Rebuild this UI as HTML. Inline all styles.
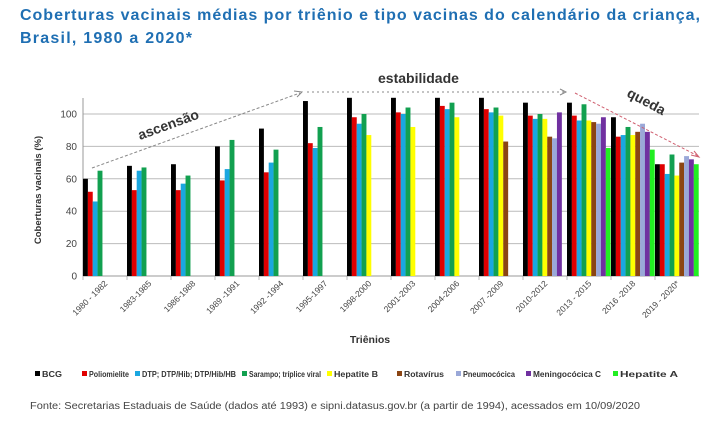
<!DOCTYPE html>
<html><head><meta charset="utf-8"><style>
body{margin:0;background:#fff;width:722px;height:432px;overflow:hidden;font-family:"Liberation Sans",sans-serif}
</style></head><body>
<svg id="c" width="722" height="432" xmlns="http://www.w3.org/2000/svg" font-family="Liberation Sans, sans-serif">
<text x="20" y="20" font-size="16" font-weight="bold" fill="#1f6fb3" textLength="680" lengthAdjust="spacing">Coberturas vacinais médias por triênio e tipo vacinas do calendário da criança,</text>
<text x="20" y="43" font-size="16" font-weight="bold" fill="#1f6fb3" textLength="172" lengthAdjust="spacing">Brasil, 1980 a 2020*</text>
<g id="grid" stroke="#bbb" stroke-width="1"></g>
<line x1="83" y1="98" x2="83" y2="276" stroke="#999"/>
<line x1="83" y1="276" x2="699" y2="276" stroke="#999"/>
<g id="bars"></g>
<g id="lbl" font-size="8.5" fill="#444"></g>
<text transform="translate(41,190) rotate(-90)" text-anchor="middle" font-size="9.5" font-weight="bold" fill="#333">Coberturas vacinais (%)</text>
<text x="370" y="343" text-anchor="middle" font-size="10.5" font-weight="bold" fill="#333">Triênios</text>
<line x1="92" y1="168" x2="300" y2="93" stroke="#888" stroke-dasharray="3,2"/>
<path d="M294,91 L302,92 L297,97" fill="none" stroke="#888"/>
<line x1="307" y1="92" x2="565" y2="92" stroke="#888" stroke-dasharray="2,3"/>
<path d="M560,89 L566,92 L560,95" fill="none" stroke="#888"/>
<line x1="575" y1="93" x2="698" y2="156" stroke="#d06070" stroke-dasharray="3,2"/>
<path d="M691,155 L699,157 L694,151" fill="none" stroke="#d06070"/>
<text transform="translate(140,140) rotate(-20)" font-size="14" font-weight="bold" fill="#333">ascensão</text>
<text x="378" y="83" font-size="14" font-weight="bold" fill="#333">estabilidade</text>
<text transform="translate(626,96) rotate(28)" font-size="14" font-weight="bold" fill="#333">queda</text>
<g id="leg" font-size="8" font-weight="bold" fill="#333"></g>
<text x="30" y="409" font-size="10" fill="#444" textLength="610" lengthAdjust="spacingAndGlyphs">Fonte: Secretarias Estaduais de Saúde (dados até 1993) e sipni.datasus.gov.br (a partir de 1994), acessados em 10/09/2020</text>
</svg>
<script>
var ns="http://www.w3.org/2000/svg";
function el(p,t,a,txt){var e=document.createElementNS(ns,t);for(var k in a)e.setAttribute(k,a[k]);if(txt)e.textContent=txt;document.getElementById(p).appendChild(e);}
var Y=function(v){return 276-v*1.62;};
[20,40,60,80,100].forEach(function(v){el("grid","line",{x1:83,x2:699,y1:Y(v),y2:Y(v)});});
[0,20,40,60,80,100].forEach(function(v){el("lbl","text",{x:77,y:Y(v)+3.5,"text-anchor":"end","font-size":"10"},String(v));});
var cols=["#000","#e00000","#1aa7e0","#12a050","#ffff00","#8b4513","#9aa8d8","#7030a0","#22ee22"];
var D=[[60,52,46,65],[68,53,65,67],[69,53,57,62],[80,59,66,84],[91,64,70,78],[108,82,79,92],
[110,98,94,100,87],[110,101,100,104,92],[110,105,103,107,98],[110,103,101,104,99,83],
[107,99,97,100,97,86,85,101],[107,99,96,106,96,95,94,98,79],[98,86,87,92,87,89,94,89,78],[69,69,63,75,62,70,74,72,69]];
var labs=["1980 - 1982","1983-1985","1986-1988","1989 -1991","1992 -1994","1995-1997","1998-2000","2001-2003","2004-2006","2007 -2009","2010-2012","2013 - 2015","2016 -2018","2019 - 2020*"];
D.forEach(function(g,i){var x0=83+i*44;
 g.forEach(function(v,j){el("bars","rect",{x:x0+j*4.85,y:Y(v),width:4.9,height:v*1.62,fill:cols[j]});});
 el("grid","line",{x1:x0,x2:x0,y1:276,y2:280});
 el("lbl","text",{transform:"translate("+(x0+25)+",284) rotate(-45)","text-anchor":"end"},labs[i]);
});
var L=["BCG","Poliomielite","DTP; DTP/Hib; DTP/Hib/HB","Sarampo; tríplice viral","Hepatite B","Rotavírus","Pneumocócica","Meningocócica C","Hepatite A"];
var lx=[35,82,135,242,327,397,456,526,613];
var lw=[20,40,94,72,44,40,52,68,58];
L.forEach(function(t,i){el("leg","rect",{x:lx[i],y:371,width:5,height:5,fill:cols[i]});el("leg","text",{x:lx[i]+7,y:377,textLength:lw[i],lengthAdjust:"spacingAndGlyphs"},t);});
</script>
</body></html>
